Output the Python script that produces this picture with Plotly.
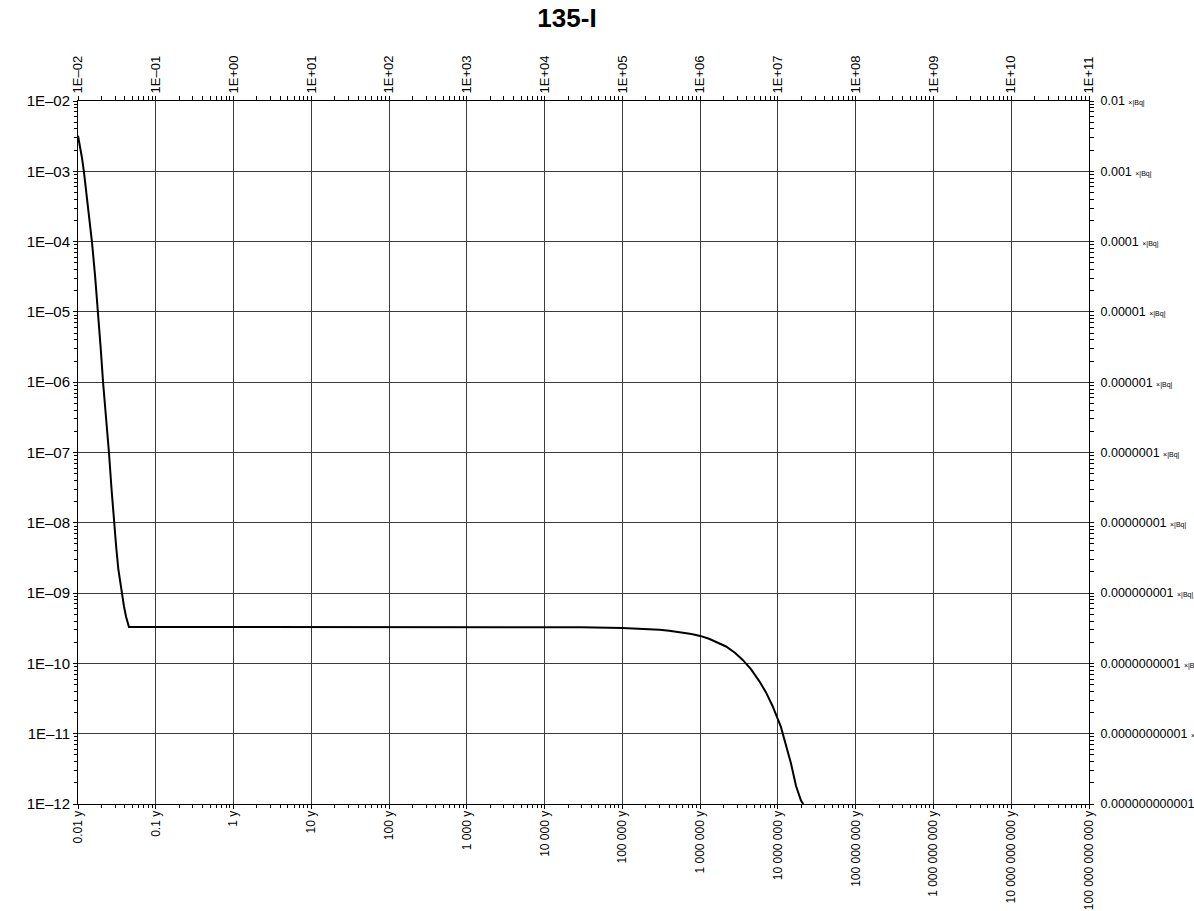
import plotly.graph_objects as go

# Activity curve of 135-I (time in years, activity in Bq)
time_y = [0.01, 0.0105, 0.0112, 0.0119, 0.0135, 0.0151, 0.0166, 0.0181, 0.0196, 0.021,
          0.0231, 0.025, 0.027, 0.029, 0.031, 0.033, 0.0349, 0.0367, 0.039, 0.0415,
          0.0452, 0.1, 1, 10, 100, 1000, 10000, 30000, 100000, 200000, 300000,
          400000, 500000, 600000, 700000, 800000, 1000000, 1300000, 1700000, 2150000,
          2800000, 3500000, 4500000, 5750000, 7000000, 8500000, 10900000, 12700000,
          14700000, 17100000, 19800000, 21200000]
activity = [3.2e-3, 2.4e-3, 1.6e-3, 1.0e-3, 3.1e-4, 1.0e-4, 3.2e-5, 1.0e-5, 3.0e-6, 1.0e-6,
            3.0e-7, 1.0e-7, 3.0e-8, 1.0e-8, 4.5e-9, 2.2e-9, 1.4e-9, 1.0e-9, 6.5e-10, 4.6e-10,
            3.3e-10, 3.3e-10, 3.3e-10, 3.3e-10, 3.3e-10, 3.3e-10, 3.29e-10, 3.27e-10, 3.2e-10,
            3.1e-10, 3.0e-10, 2.92e-10, 2.84e-10, 2.75e-10, 2.67e-10, 2.6e-10, 2.46e-10,
            2.24e-10, 1.98e-10, 1.74e-10, 1.42e-10, 1.13e-10, 8.3e-11, 5.6e-11, 3.9e-11,
            2.5e-11, 1.26e-11, 7.0e-12, 3.8e-12, 1.8e-12, 1.12e-12, 1.0e-12]

x_tickvals = [10.0 ** e for e in range(-2, 12)]
x_bottom_labels = ["0.01 y", "0.1 y", "1 y", "10 y", "100 y", "1 000 y", "10 000 y",
                   "100 000 y", "1 000 000 y", "10 000 000 y", "100 000 000 y",
                   "1 000 000 000 y", "10 000 000 000 y", "100 000 000 000 y"]
x_top_labels = ["1E–02", "1E–01", "1E+00", "1E+01", "1E+02", "1E+03", "1E+04", "1E+05",
                "1E+06", "1E+07", "1E+08", "1E+09", "1E+10", "1E+11"]

y_tickvals = [10.0 ** e for e in range(-2, -13, -1)]
y_left_labels = ["1E–02", "1E–03", "1E–04", "1E–05", "1E–06", "1E–07", "1E–08",
                 "1E–09", "1E–10", "1E–11", "1E–12"]
y_right_values = ["0.01", "0.001", "0.0001", "0.00001", "0.000001", "0.0000001",
                  "0.00000001", "0.000000001", "0.0000000001", "0.00000000001",
                  "0.000000000001"]
unit = "×|Bq|"
y_right_labels = [f"{v} <span style='font-size:7px'>{unit}</span>"
                  for v in y_right_values]

# minor tick positions (2..9 within each decade)
x_minor = [k * 10.0 ** e for e in range(-2, 11) for k in range(2, 10)]
y_minor = [k * 10.0 ** e for e in range(-12, -2) for k in range(2, 10)]

FONT = "Liberation Sans, Arial, sans-serif"
x_range = [-2, 11]
y_range = [-12, -2]

fig = go.Figure()
fig.add_trace(go.Scatter(x=time_y, y=activity, mode="lines",
                         line=dict(color="black", width=2),
                         showlegend=False, xaxis="x", yaxis="y"))
# companion traces so the extra tick axes are drawn
for xa, ya in (("x2", "y2"), ("x3", "y3")):
    fig.add_trace(go.Scatter(x=time_y, y=activity, mode="lines",
                             line=dict(color="rgba(0,0,0,0)", width=0),
                             hoverinfo="skip", showlegend=False, xaxis=xa, yaxis=ya))

axis_common = dict(type="log", showline=True, linecolor="black", linewidth=1,
                   ticks="outside", tickcolor="black", zeroline=False,
                   automargin=False, showgrid=False)
grid = dict(showgrid=True, gridcolor="#3c3c3c", gridwidth=1)

fig.update_layout(
    width=1194, height=911,
    margin=dict(l=78, r=105, t=101, b=107),
    paper_bgcolor="white", plot_bgcolor="white",
    title=dict(text="<b>135-I</b>", x=567 / 1194, xref="container", xanchor="center",
               y=1 - 18 / 911, yref="container", yanchor="middle",
               font=dict(family=FONT, size=26, color="black")),
    # bottom: labels and grid at each decade
    xaxis=dict(**{**axis_common, **grid}, range=x_range, tickmode="array",
               tickvals=x_tickvals, ticktext=x_bottom_labels, tickangle=-90, ticklen=4,
               ticklabelstandoff=-3,
               tickfont=dict(family=FONT, size=12, color="black")),
    # bottom minor ticks
    xaxis3=dict(**axis_common, range=x_range, overlaying="x", side="bottom", anchor="y3",
                tickmode="array", tickvals=x_minor, ticklen=3, showticklabels=False),
    # top: decade labels plus minor ticks
    xaxis2=dict(**axis_common, range=x_range, overlaying="x", side="top", anchor="y2",
                tickmode="array", tickvals=x_tickvals + x_minor,
                ticktext=x_top_labels + [""] * len(x_minor),
                tickangle=-90, ticklen=4,
                tickfont=dict(family=FONT, size=13, color="black")),
    yaxis=dict(**{**axis_common, **grid}, range=y_range, tickmode="array",
               tickvals=y_tickvals, ticktext=y_left_labels, ticklen=4,
               tickfont=dict(family=FONT, size=15, color="black")),
    yaxis3=dict(**axis_common, range=y_range, overlaying="y", side="left", anchor="x3",
                tickmode="array", tickvals=y_minor, ticklen=3, showticklabels=False),
    yaxis2=dict(**axis_common, range=y_range, overlaying="y", side="right", anchor="x2",
                tickmode="array", tickvals=y_tickvals + y_minor,
                ticktext=y_right_labels + [""] * len(y_minor), ticklen=4,
                ticklabelstandoff=4,
                tickfont=dict(family=FONT, size=12.5, color="black")),
)

fig.write_html("out.html")
